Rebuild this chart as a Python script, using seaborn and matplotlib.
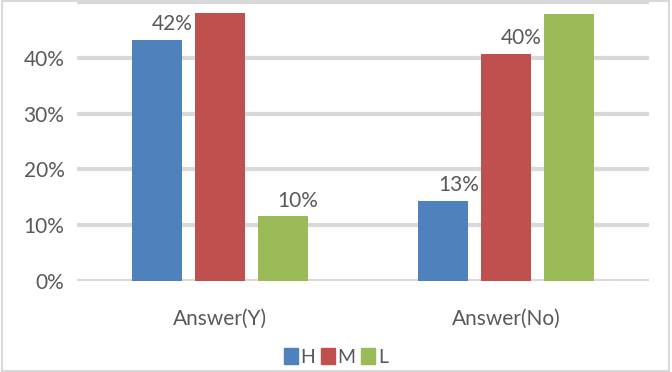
import pandas as pd
import matplotlib.pyplot as plt
import seaborn as sns
from matplotlib.patches import Patch, Rectangle

# values
answers = ["Answer(Y)", "Answer(No)"]
levels = ["H", "M", "L"]
h_vals = [0.432, 0.144]
m_vals = [0.480, 0.407]
l_vals = [0.116, 0.478]
# data labels as printed on the chart (only some bars carry one)
h_labels = ["42%", "13%"]
m_labels = ["", "40%"]
l_labels = ["10%", ""]

colors = {"H": "#4F81BD", "M": "#C0504D", "L": "#9BBB59"}

df = pd.DataFrame({
    "answer": answers * 3,
    "level": ["H"] * 2 + ["M"] * 2 + ["L"] * 2,
    "value": h_vals + m_vals + l_vals,
    "label": h_labels + m_labels + l_labels,
})

sns.set_style("white")
plt.rcParams["font.family"] = ["Lato", "DejaVu Sans"]
txt = "#595959"
fs = 15

fig = plt.figure(figsize=(6.72, 3.72), dpi=100)
ax = fig.add_axes([77 / 672, 91 / 372, 572 / 672, 279 / 372])

sns.barplot(data=df, x="answer", y="value", hue="level", hue_order=levels,
            palette=colors, saturation=1, width=0.66, gap=0.2, legend=False,
            ax=ax, edgecolor="none", zorder=3)

ax.set_ylim(0, 0.5)
ax.set_yticks([0, 0.1, 0.2, 0.3, 0.4, 0.5])
ax.set_yticklabels(["0%", "10%", "20%", "30%", "40%", ""])
ax.yaxis.grid(True, color="#D9D9D9", linewidth=3, zorder=0)
ax.set_axisbelow(True)
for s in ax.spines.values():
    s.set_visible(False)
ax.tick_params(axis="both", length=0, labelsize=fs, colors=txt)
ax.tick_params(axis="x", pad=20)
ax.tick_params(axis="y", pad=9)
ax.set_xlabel("")
ax.set_ylabel("")

# data labels, sitting above and a bit right of their bar
for cont, lv in zip(ax.containers, levels):
    sub = df[df["level"] == lv]
    for bar, lab in zip(cont, sub["label"]):
        if lab:
            ax.annotate(lab, (bar.get_x() + bar.get_width() / 2, bar.get_height()),
                        xytext=(11, 4), textcoords="offset points",
                        ha="center", va="bottom", fontsize=fs, color=txt)

handles = [Patch(color=colors[l]) for l in levels]
fig.legend(handles, levels, loc="center", bbox_to_anchor=(0.5, 0.04), ncol=3,
           frameon=False, handlelength=0.7, handleheight=0.9, handletextpad=0.15,
           columnspacing=0.3, fontsize=14, labelcolor=txt, borderpad=0.1)

fig.patches.append(Rectangle((0.003, 0.003), 0.992, 0.994, transform=fig.transFigure,
                             fill=False, edgecolor="#D9D9D9", linewidth=1.5))

fig.savefig("out.png", dpi=100)
